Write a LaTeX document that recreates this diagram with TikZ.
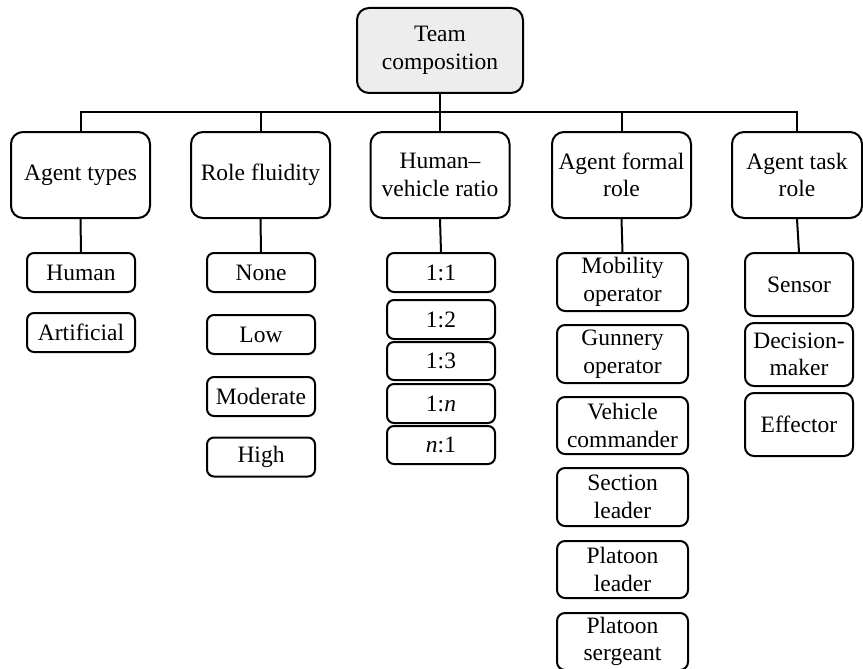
\documentclass[tikz,border=0pt]{standalone}
\usepackage{fontspec}
\setmainfont{Liberation Serif}
\begin{document}
\begin{tikzpicture}[x=1pt,y=-1pt,
  every node/.style={font=\fontsize{23.5}{27.5}\selectfont, align=center, inner sep=0pt},
  box/.style={draw=black, line width=2pt, fill=white},
  rootbox/.style={box, rounded corners=12pt, fill=gray!14, minimum width=166pt, minimum height=85pt},
  catbox/.style={box, rounded corners=12pt, minimum width=139pt, minimum height=86pt},
  leafbox/.style={box, rounded corners=7pt, minimum width=108pt, minimum height=39pt},
  rolebox/.style={box, rounded corners=8pt, minimum width=131pt, minimum height=57pt},
  taskbox/.style={box, rounded corners=9pt, minimum width=108pt, minimum height=63pt},
  link/.style={line width=2pt}]
\useasboundingbox (0,0) rectangle (863,669);

% root and bus
\node[rootbox] (root) at (440,50.5) {Team\\composition};
\coordinate (bus) at (440,112);

% categories
\node[catbox] (types) at (80.5,175) {Agent types};
\node[catbox] (fluid) at (260.5,175) {Role fluidity};
\node[catbox] (ratio) at (440,175) {Human–\\vehicle ratio};
\node[catbox] (formal) at (621.5,175) {Agent formal\\role};
\node[catbox, minimum width=130pt] (task) at (797,175) {Agent task\\role};

% agent types
\node[leafbox] (human) at (81,272.5) {Human};
\node[leafbox] (artif) at (81,332.5) {Artificial};

% role fluidity
\node[leafbox] (none) at (261,272.5) {None};
\node[leafbox] (low) at (261,334.5) {Low};
\node[leafbox] (moder) at (261,396.5) {Moderate};
\node[leafbox] (high) at (261,457) {High};

% human-vehicle ratio
\node[leafbox] (r11) at (441,272.5) {1:1};
\node[leafbox] (r12) at (441,319.5) {1:2};
\node[leafbox, minimum height=38pt] (r13) at (441,361) {1:3};
\node[leafbox] (r1n) at (441,403.5) {1:\textit{n}};
\node[leafbox, minimum height=38pt] (rn1) at (441,445) {\textit{n}:1};

% formal roles
\node[rolebox, minimum height=58pt] (mob) at (622.5,282) {Mobility\\operator};
\node[rolebox, minimum height=58pt] (gun) at (622.5,354) {Gunnery\\operator};
\node[rolebox] (veh) at (622.5,425.5) {Vehicle\\commander};
\node[rolebox, minimum height=58pt] (sect) at (622.5,497) {Section\\leader};
\node[rolebox] (plat) at (622.5,569.5) {Platoon\\leader};
\node[rolebox] (sgt) at (622.5,641.5) {Platoon\\sergeant};

% task roles
\node[taskbox] (sens) at (799,284.5) {Sensor};
\node[taskbox] (dec) at (799,354.5) {Decision-\\maker};
\node[taskbox] (eff) at (799,424.5) {Effector};

% tree connectors
\draw[link] (root.south) -- (bus);
\draw[link] (types.north) -- (types.north |- bus) -- (task.north |- bus) -- (task.north);
\draw[link] (fluid.north) -- (fluid.north |- bus);
\draw[link] (ratio.north) -- (ratio.north |- bus);
\draw[link] (formal.north) -- (formal.north |- bus);

\draw[link] (types.south) -- (human.north);
\draw[link] (fluid.south) -- (none.north);
\draw[link] (ratio.south) -- (r11.north);
\draw[link] (formal.south) -- (mob.north);
\draw[link] (task.south) -- (sens.north);
\end{tikzpicture}
\end{document}
